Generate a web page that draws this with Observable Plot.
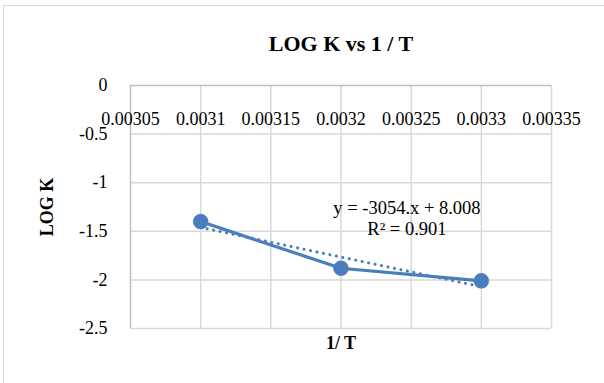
<!DOCTYPE html>
<html>
<head>
<meta charset="utf-8">
<script src="https://cdn.jsdelivr.net/npm/d3@7"></script>
<script src="https://cdn.jsdelivr.net/npm/@observablehq/plot@0.6"></script>
<style>
  html, body { margin: 0; padding: 0; background: #fff; overflow: hidden; }
  #frame { position: absolute; left: 3px; top: 5px; width: 800px; height: 600px;
           border: 1.5px solid #d9d9d9; box-sizing: border-box; }
  #chart { position: absolute; left: 0; top: 0; }
  #chart svg text { font-family: 'Liberation Serif', 'Times New Roman', serif; }
</style>
</head>
<body>
<div id="frame"></div>
<div id="chart"></div>
<script>
// Data
const invT = [0.0031, 0.0032, 0.0033];
const logK = [-1.40, -1.88, -2.01];
// Excel linear trendline endpoints (dotted)
const trendX = [0.0031, 0.0033];
const trendY = [-1.46, -2.07];
// Ticks
const xTicks = [0.00305, 0.0031, 0.00315, 0.0032, 0.00325, 0.0033, 0.00335];
const xTickLabels = ["0.00305", "0.0031", "0.00315", "0.0032", "0.00325", "0.0033", "0.00335"];
const yTicks = [0, -0.5, -1, -1.5, -2, -2.5];
const yTickLabels = ["0", "-0.5", "-1", "-1.5", "-2", "-2.5"];
const titleText = "LOG K vs 1 / T";
const xTitle = "1/ T";
const yTitle = "LOG K";
const eqLines = ["y = -3054.x + 8.008", "R² = 0.901"];

const series = invT.map((x, i) => ({x, y: logK[i]}));
const trend = trendX.map((x, i) => ({x, y: trendY[i]}));
const xt = xTicks.map((v, i) => ({v, label: xTickLabels[i]}));
const yt = yTicks.map((v, i) => ({v, label: yTickLabels[i]}));

const blue = "#4a7ebb";
const font = "'Liberation Serif', 'Times New Roman', serif";

const chart = Plot.plot({
  width: 604,
  height: 383,
  marginLeft: 130,
  marginRight: 53,
  marginTop: 85,
  marginBottom: 55,
  style: {fontFamily: font, background: "transparent", color: "#000"},
  x: {domain: [0.00305, 0.00335], axis: null},
  y: {domain: [-2.5, 0], axis: null},
  marks: [
    Plot.ruleX(xTicks.slice(1), {stroke: "#d9d9d9", strokeWidth: 1.5, strokeOpacity: 1}),
    Plot.ruleY(yTicks.slice(1), {stroke: "#d9d9d9", strokeWidth: 1.5, strokeOpacity: 1}),
    Plot.ruleX([xTicks[0]], {stroke: "#bfbfbf", strokeWidth: 1.5, strokeOpacity: 1}),
    Plot.ruleY([yTicks[0]], {stroke: "#bfbfbf", strokeWidth: 1.5, strokeOpacity: 1}),
    // x tick labels (below the axis line at y = 0)
    Plot.text(xt, {x: "v", text: "label", frameAnchor: "top", lineAnchor: "middle", dy: 34, fontSize: 18, fill: "#000"}),
    // y tick labels
    Plot.text(yt, {y: "v", text: "label", frameAnchor: "left", textAnchor: "end", lineAnchor: "middle", dx: -23, fontSize: 18, fill: "#000"}),
    // trendline
    Plot.line(trend, {x: "x", y: "y", stroke: blue, strokeWidth: 3, strokeDasharray: "0.1 6.5", strokeLinecap: "round"}),
    // series
    Plot.line(series, {x: "x", y: "y", stroke: blue, strokeWidth: 3.2}),
    Plot.dot(series, {x: "x", y: "y", r: 7.5, fill: blue, stroke: blue, strokeWidth: 0.5}),
    // trend equation
    Plot.text([eqLines.join("\n")], {x: 0.003247, y: -1.36, text: d => d, fontSize: 18.5, lineHeight: 1.13, fill: "#000", textAnchor: "middle"}),
    // titles
    Plot.text([titleText], {frameAnchor: "top", lineAnchor: "middle", dy: -42, text: d => d, fontSize: 22, fontWeight: "bold", fill: "#000"}),
    Plot.text([xTitle], {frameAnchor: "bottom", lineAnchor: "middle", dy: 15, text: d => d, fontSize: 18, fontWeight: "bold", fill: "#000"}),
    Plot.text([yTitle], {frameAnchor: "left", textAnchor: "middle", lineAnchor: "middle", dx: -83, rotate: -90, text: d => d, fontSize: 18, fontWeight: "bold", fill: "#000"})
  ]
});
document.getElementById("chart").appendChild(chart);
</script>
</body>
</html>
